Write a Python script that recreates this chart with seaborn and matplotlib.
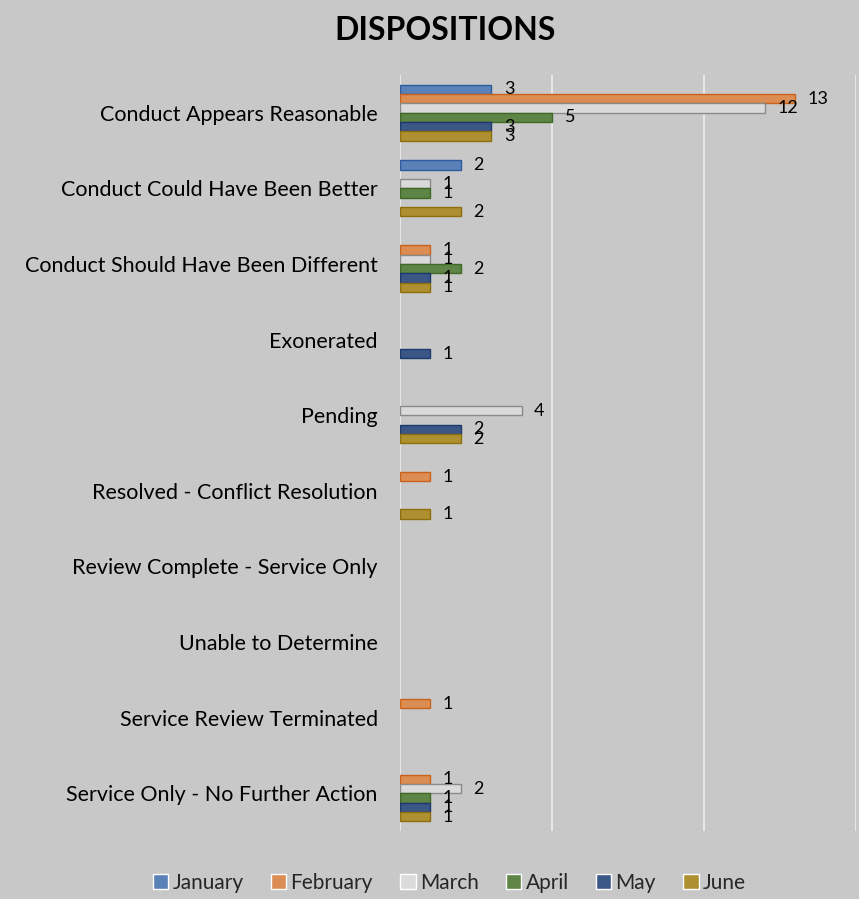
import pandas as pd
import numpy as np
import matplotlib.pyplot as plt
import seaborn as sns

categories = ['Conduct Appears Reasonable', 'Conduct Could Have Been Better',
              'Conduct Should Have Been Different', 'Exonerated', 'Pending',
              'Resolved - Conflict Resolution', 'Review Complete - Service Only',
              'Unable to Determine', 'Service Review Terminated',
              'Service Only - No Further Action']
months = ['January', 'February', 'March', 'April', 'May', 'June']

january = [3, 2, 0, 0, 0, 0, 0, 0, 0, 0]
february = [13, 0, 1, 0, 0, 1, 0, 0, 1, 1]
march = [12, 1, 1, 0, 4, 0, 0, 0, 0, 2]
april = [5, 1, 2, 0, 0, 0, 0, 0, 0, 1]
may = [3, 0, 1, 1, 2, 0, 0, 0, 0, 1]
june = [3, 2, 1, 0, 2, 1, 0, 0, 0, 1]

colors = ['#4A7EC8', '#F28A3C', '#DADADA', '#5C8E3C', '#2E5493', '#C49A1C']
edges = ['#2F5C9E', '#C9631C', '#8A8A8A', '#3F6A26', '#1D3A6E', '#8F6E0E']

series = [january, february, march, april, may, june]
rows = []
for m, vals in zip(months, series):
    for c, v in zip(categories, vals):
        rows.append({'Disposition': c, 'Month': m, 'Count': v})
df = pd.DataFrame(rows)

sns.set_theme(style='white')
plt.rcParams['font.family'] = ['Lato', 'DejaVu Sans']

bg = '#C8C8C8'
fig = plt.figure(figsize=(8.59, 8.99), dpi=100, facecolor=bg)
ax = fig.add_axes([0.4657, 0.0756, 0.531, 0.841])
ax.set_facecolor(bg)

sns.barplot(data=df, y='Disposition', x='Count', hue='Month', order=categories,
            hue_order=months, palette=colors, orient='h', width=0.74,
            linewidth=1, ax=ax, legend=True)

for cont, ec, vals in zip(ax.containers, edges, series):
    for p, v in zip(cont.patches, vals):
        p.set_edgecolor(ec)
        if v == 0:
            p.set_visible(False)
    labels = [str(v) if v > 0 else '' for v in vals]
    ax.bar_label(cont, labels=labels, padding=9, fontsize=13, color='black')

ax.set_xlim(0, 15)
ax.set_xticks([0, 5, 10, 15])
ax.set_xticklabels([])
ax.tick_params(axis='both', length=0)
ax.grid(axis='x', color='#EDEDED', linewidth=1.2)
ax.grid(axis='y', visible=False)
ax.set_axisbelow(True)
for s in ax.spines.values():
    s.set_visible(False)
ax.set_xlabel('')
ax.set_ylabel('')
ax.tick_params(axis='y', labelsize=15.5, pad=16, labelcolor='black')

leg = ax.get_legend()
handles = leg.legend_handles
leg.remove()
fig.legend(handles, months, loc='lower center', bbox_to_anchor=(0.523, -0.014), ncol=6,
           frameon=False, fontsize=15, handlelength=0.75, handleheight=0.75,
           handletextpad=0.2, columnspacing=1.3)

fig.text(0.518, 0.966, 'DISPOSITIONS', ha='center', va='center', fontsize=23,
         fontweight='bold', color='black')

fig.savefig('out.png', dpi=100, facecolor=bg)
